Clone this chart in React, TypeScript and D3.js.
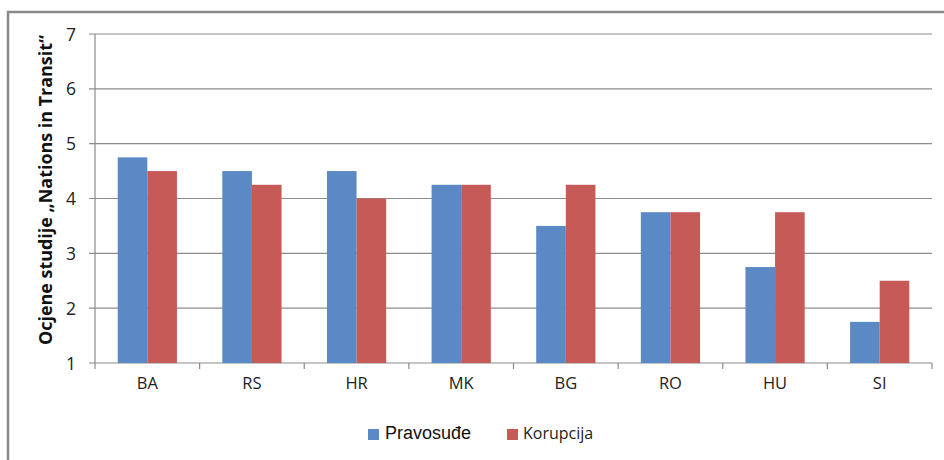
import React from "react";
import * as d3 from "d3";

const categories = ["BA", "RS", "HR", "MK", "BG", "RO", "HU", "SI"];
const pravosudje = [4.75, 4.5, 4.5, 4.25, 3.5, 3.75, 2.75, 1.75];
const korupcija = [4.5, 4.25, 4.0, 4.25, 4.25, 3.75, 3.75, 2.5];
const yTicks = [1, 2, 3, 4, 5, 6, 7];
const seriesNames = ["Pravosuđe", "Korupcija"];
const colors = ["#5A89C5", "#C55A57"];

const W = 944;
const H = 460;
const left = 95;
const right = 932;
const top = 34;
const bottom = 363;

export default function App() {
  const x = d3.scaleBand().domain(categories).range([left, right]);
  const y = d3.scaleLinear().domain([1, 7]).range([bottom, top]);
  const bw = x.bandwidth();
  const barW = bw * 0.283;
  const series = [pravosudje, korupcija];

  return (
    <svg
      width={W}
      height={H}
      style={{ position: "fixed", left: 0, top: 0, background: "#fff" }}
    >
      {/* outer frame */}
      <rect x={8} y={12} width={W + 20} height={H + 20} fill="#fff" stroke="#8a8a8a" strokeWidth={2.5} />

      {/* gridlines + y ticks */}
      {yTicks.map((t) => (
        <g key={t}>
          <line x1={left - 6} x2={right} y1={y(t)} y2={y(t)} stroke="#8c8c8c" strokeWidth={1.2} />
          <text
            x={76}
            y={y(t) + 6.5}
            textAnchor="end"
            fontFamily="Open Sans, sans-serif"
            fontSize={17.5}
            fill="#222"
          >
            {t}
          </text>
        </g>
      ))}

      {/* y axis */}
      <line x1={left} x2={left} y1={top} y2={bottom + 6} stroke="#8c8c8c" strokeWidth={1.2} />

      {/* x tick marks */}
      {categories.map((c, i) => (
        <line
          key={"t" + c}
          x1={left + bw * (i + 1)}
          x2={left + bw * (i + 1)}
          y1={bottom}
          y2={bottom + 6}
          stroke="#8c8c8c"
          strokeWidth={1.2}
        />
      ))}

      {/* bars */}
      {series.map((vals, s) =>
        vals.map((v, i) => {
          const cx = (x(categories[i]) as number) + bw / 2;
          return (
            <rect
              key={s + "-" + i}
              x={cx - barW + s * barW}
              y={y(v)}
              width={barW}
              height={y(1) - y(v)}
              fill={colors[s]}
            />
          );
        })
      )}

      {/* x labels */}
      {categories.map((c) => (
        <text
          key={c}
          x={(x(c) as number) + bw / 2}
          y={389}
          textAnchor="middle"
          fontFamily="Open Sans, sans-serif"
          fontSize={16.5}
          fill="#222"
        >
          {c}
        </text>
      ))}

      {/* y title */}
      <text
        transform="translate(52,190) rotate(-90)"
        textAnchor="middle"
        fontFamily="Open Sans, sans-serif"
        fontWeight="bold"
        fontSize={17}
        textLength={310}
        lengthAdjust="spacingAndGlyphs"
        fill="#111"
      >
        Ocjene studije „Nations in Transit“
      </text>

      {/* legend */}
      <rect x={368} y={429} width={11} height={11} fill={colors[0]} />
      <text x={385} y={439} fontFamily="Liberation Sans, Arial, sans-serif" fontSize={18} fill="#111">
        {seriesNames[0]}
      </text>
      <rect x={507} y={429} width={11} height={11} fill={colors[1]} />
      <text x={523} y={439} fontFamily="Open Sans, sans-serif" fontSize={16} fill="#222">
        {seriesNames[1]}
      </text>
    </svg>
  );
}
